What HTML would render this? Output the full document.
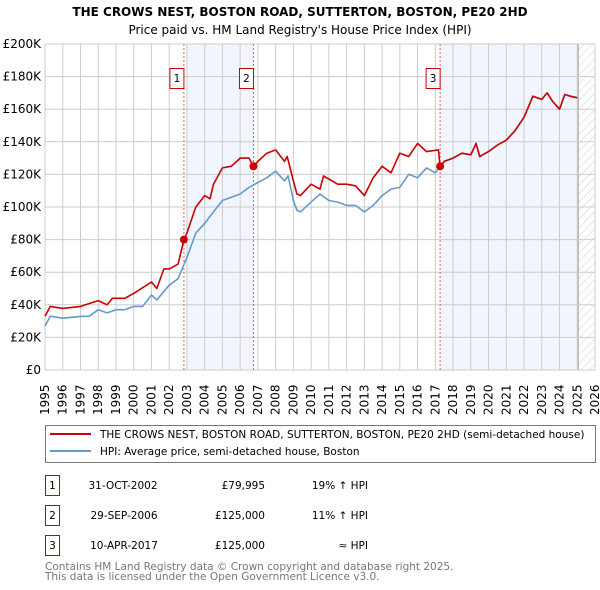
<!DOCTYPE html>
<html><head><meta charset="utf-8">
<style>
body{margin:0;background:#fff;width:600px;height:590px;overflow:hidden;font-family:"DejaVu Sans","Liberation Sans",sans-serif;}
svg{position:absolute;left:0;top:0}
</style></head>
<body>
<svg width="600" height="590" viewBox="0 0 600 590">
<defs>
<pattern id="hatch" width="6" height="6" patternUnits="userSpaceOnUse" patternTransform="rotate(45)">
<line x1="0" y1="0" x2="0" y2="6" stroke="#ccc" stroke-width="1"/>
</pattern>
</defs>
<g id="bg"></g>
<g id="grid"></g>
<g id="marks"></g>
<g id="axes" font-size="12" fill="#000"></g>
<text x="300" y="16" text-anchor="middle" font-size="12" font-weight="bold">THE CROWS NEST, BOSTON ROAD, SUTTERTON, BOSTON, PE20 2HD</text>
<text x="300" y="34" text-anchor="middle" font-size="12">Price paid vs. HM Land Registry's House Price Index (HPI)</text>
<g>
<rect x="45.5" y="425.5" width="550" height="37" fill="#fff" stroke="#777"/>
<line x1="50" y1="434" x2="91" y2="434" stroke="#cc0000" stroke-width="2"/>
<text x="100" y="438" font-size="10.5">THE CROWS NEST, BOSTON ROAD, SUTTERTON, BOSTON, PE20 2HD (semi-detached house)</text>
<line x1="50" y1="451" x2="91" y2="451" stroke="#6699cc" stroke-width="2"/>
<text x="100" y="455" font-size="10.5">HPI: Average price, semi-detached house, Boston</text>
</g>
<g font-size="10.5">
<rect x="45.5" y="475.5" width="14" height="20" fill="#fff" stroke="#cc0000"/><text x="52.5" y="489" text-anchor="middle">1</text>
<text x="123" y="489" text-anchor="middle">31-OCT-2002</text><text x="265" y="489" text-anchor="end">£79,995</text><text x="368" y="489" text-anchor="end">19% ↑ HPI</text>
<rect x="45.5" y="505.5" width="14" height="20" fill="#fff" stroke="#cc0000"/><text x="52.5" y="519" text-anchor="middle">2</text>
<text x="124" y="519" text-anchor="middle">29-SEP-2006</text><text x="265" y="519" text-anchor="end">£125,000</text><text x="368" y="519" text-anchor="end">11% ↑ HPI</text>
<rect x="45.5" y="535.5" width="14" height="20" fill="#fff" stroke="#cc0000"/><text x="52.5" y="549" text-anchor="middle">3</text>
<text x="124" y="549" text-anchor="middle">10-APR-2017</text><text x="265" y="549" text-anchor="end">£125,000</text><text x="368" y="549" text-anchor="end">≈ HPI</text>
</g>
<text x="45" y="570" font-size="10.5" fill="#777">Contains HM Land Registry data © Crown copyright and database right 2025.</text>
<text x="45" y="580" font-size="10.5" fill="#777">This data is licensed under the Open Government Licence v3.0.</text>
</svg>
<script>
const hpiYears=[1995,1995.3,1996,1997,1997.5,1998,1998.5,1999,1999.5,2000,2000.5,2001,2001.3,2002,2002.5,2003,2003.5,2004,2004.5,2005,2005.5,2006,2006.5,2007,2007.5,2008,2008.5,2008.7,2009,2009.2,2009.4,2010,2010.5,2011,2011.5,2012,2012.5,2013,2013.5,2014,2014.5,2015,2015.5,2016,2016.5,2017,2017.2,2017.5,2018,2018.5,2019,2019.3,2019.5,2020,2020.5,2021,2021.5,2022,2022.5,2023,2023.3,2023.6,2024,2024.3,2024.6,2025];
const hpiValues=[27,33,31.8,32.9,33,37,35,37,37,39,39,46,43,52,56,69,84,90,97,104,106,108,112,115,118,122,116,119,104,98,97,103,108,104,103,101,101,97,101,107,111,112,120,118,124,121,124,128,130,133,132,139,131,134,138,141,147,155,168,166,170,165,160,169,168,167];
const priceYears=[1995,1995.3,1996,1997,1998,1998.5,1998.8,1999.5,2000,2001,2001.3,2001.7,2002,2002.5,2002.83,2003,2003.5,2004,2004.3,2004.5,2005,2005.5,2006,2006.5,2006.75,2007,2007.5,2008,2008.5,2008.65,2009,2009.2,2009.4,2010,2010.5,2010.7,2011.5,2012,2012.5,2013,2013.5,2014,2014.5,2015,2015.5,2016,2016.5,2017.18,2017.27,2017.5,2018,2018.5,2019,2019.3,2019.5,2020,2020.5,2021,2021.5,2022,2022.5,2023,2023.3,2023.6,2024,2024.3,2024.6,2025];
const priceValues=[33,39,37.8,39,42.6,40,44,44,47,54,50,62,62,65,80,84,100,107,105,114,124,125,130,130,125,128,133,135,128,131,116,108,107,114,111,119,114,114,113,107,118,125,121,133,131,139,134,135,124,128,130,133,132,139,131,134,138,141,147,155,168,166,170,165,160,169,168,167];
const yTicks=[0,20,40,60,80,100,120,140,160,180,200];
const xTicks=[1995,1996,1997,1998,1999,2000,2001,2002,2003,2004,2005,2006,2007,2008,2009,2010,2011,2012,2013,2014,2015,2016,2017,2018,2019,2020,2021,2022,2023,2024,2025,2026];
const saleYears=[2002.83,2006.75,2017.27];
const saleValues=[80,125,125];
const saleLabels=["1","2","3"];
const shadeStarts=[2003.0,2017.27];
const shadeEnds=[2006.75,2025.05];

const X0=45,X1=595,Y0=370,Y1=44;
const xs=y=>X0+(y-1995)/(2026-1995)*(X1-X0);
const ys=v=>Y0-v/200*(Y0-Y1);
const NS="http://www.w3.org/2000/svg";
function mk(parent,tag,attrs){const e=document.createElementNS(NS,tag);for(const k in attrs)e.setAttribute(k,attrs[k]);document.getElementById(parent).appendChild(e);return e;}

for(let i=0;i<shadeStarts.length;i++){
  const r=mk('bg','rect',{x:xs(shadeStarts[i]),y:Y1,width:xs(shadeEnds[i])-xs(shadeStarts[i]),height:Y0-Y1,fill:'#eef2fc','fill-opacity':0.8});
  
  
}
const h=mk('bg','rect',{x:xs(2025.05),y:Y1,width:X1-xs(2025.05),height:Y0-Y1,fill:'url(#hatch)'});


mk('bg','line',{x1:xs(2025.05),x2:xs(2025.05),y1:Y1,y2:Y0,stroke:'#999','stroke-width':1});

yTicks.forEach(v=>{
  const l=mk('grid','line',{x1:X0,x2:X1,y1:ys(v),y2:ys(v),stroke:'#ccc','stroke-width':1});
  
  
  const t=mk('axes','text',{x:X0-4,y:ys(v)+4,'text-anchor':'end'});
  t.textContent=v===0?'£0':'£'+v+'K';
  
  
});
xTicks.forEach(yr=>{
  const l=mk('grid','line',{x1:xs(yr),x2:xs(yr),y1:Y1,y2:Y0,stroke:'#ccc','stroke-width':1});
  
  
  const t=mk('axes','text',{x:0,y:0,transform:`translate(${xs(yr)+4},${415}) rotate(-90)`});
  t.textContent=String(yr);
  
  
});

saleYears.forEach((yr,i)=>{
  const l=mk('marks','line',{x1:xs(yr),x2:xs(yr),y1:Y1,y2:Y0,stroke:'#ee5555','stroke-width':1,'stroke-dasharray':'2,2'});
  
  
});

function path(xa,va){return xa.map((x,i)=>(i?'L':'M')+xs(x).toFixed(1)+','+ys(va[i]).toFixed(1)).join('');}
const hp=mk('marks','path',{d:path(hpiYears,hpiValues),fill:'none',stroke:'#6699cc','stroke-width':1.6,'stroke-linejoin':'round'});


const pp=mk('marks','path',{d:path(priceYears,priceValues),fill:'none',stroke:'#cc0000','stroke-width':1.6,'stroke-linejoin':'round'});



saleYears.forEach((yr,i)=>{
  const c=mk('marks','circle',{cx:xs(yr),cy:ys(saleValues[i]),r:4,fill:'#cc0000'});
  
  
  const bx=xs(yr)-14;
  const r=mk('marks','rect',{x:bx,y:68.5,width:14,height:20,fill:'#fff',stroke:'#cc0000'});
  
  
  const t=mk('marks','text',{x:bx+7,y:82,'text-anchor':'middle','font-size':'10.5'});
  t.textContent=saleLabels[i];
  
  
});
</script>
</body></html>
